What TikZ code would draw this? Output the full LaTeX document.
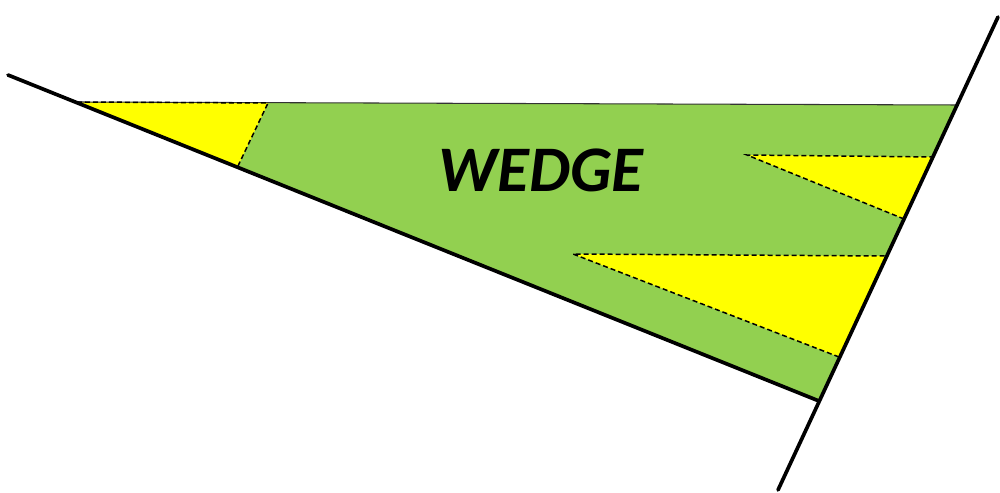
\documentclass[tikz,border=0pt]{standalone}
\usepackage{fontspec}
\newfontfamily\wedgefont{Carlito}
\definecolor{wedgegreen}{HTML}{92D050}
\definecolor{wedgeyellow}{HTML}{FFFF00}
\tikzset{
  px/.style={x=0.02cm,y=-0.02cm},
  greenfill/.style={fill=wedgegreen,draw=none},
  yellowfill/.style={fill=wedgeyellow,draw=none},
  dashedge/.style={draw=black,line width=0.85pt,dash pattern=on 0.1cm off 0.06cm},
  thickline/.style={draw=black,line width=2.1pt,line cap=round},
  thinline/.style={draw=black!80,line width=0.6pt},
  wedgelabel/.style={text=black,font=\wedgefont\bfseries\itshape\fontsize{37}{40}\selectfont},
}
\begin{document}
\begin{tikzpicture}[px]
\useasboundingbox (0,0) rectangle (1000,493);
% key points
\coordinate (L0) at (8,75);
\coordinate (A) at (77,102);
\coordinate (TR) at (958,105);
\coordinate (BR) at (819,401);
\coordinate (R0) at (998,17);
\coordinate (R1) at (778,490);
% yellow 1
\coordinate (Y1b) at (268,103);
\coordinate (Y1c) at (238,166);
% yellow 2
\coordinate (Y2a) at (747,155);
\coordinate (Y2b) at (933,157);
\coordinate (Y2c) at (904,219);
% yellow 3
\coordinate (Y3a) at (573,254);
\coordinate (Y3b) at (886,256);
\coordinate (Y3c) at (839,357);
% fills
\path[greenfill] (A) -- (TR) -- (BR) -- cycle;
\path[yellowfill] (A) -- (Y1b) -- (Y1c) -- cycle;
\path[yellowfill] (Y2a) -- (Y2b) -- (Y2c) -- cycle;
\path[yellowfill] (Y3a) -- (Y3b) -- (Y3c) -- cycle;
% top edge
\draw[thinline] (A) -- (TR);
% dashed edges
\draw[dashedge] (A) -- (Y1b) -- (Y1c);
\draw[dashedge] (Y2c) -- (Y2a) -- (Y2b);
\draw[dashedge] (Y3c) -- (Y3a) -- (Y3b);
% thick lines
\draw[thickline] (L0) -- (BR);
\draw[thickline] (R0) -- (R1);
% label
\node[wedgelabel] (label) at (541,170) {WEDGE};
\end{tikzpicture}
\end{document}
